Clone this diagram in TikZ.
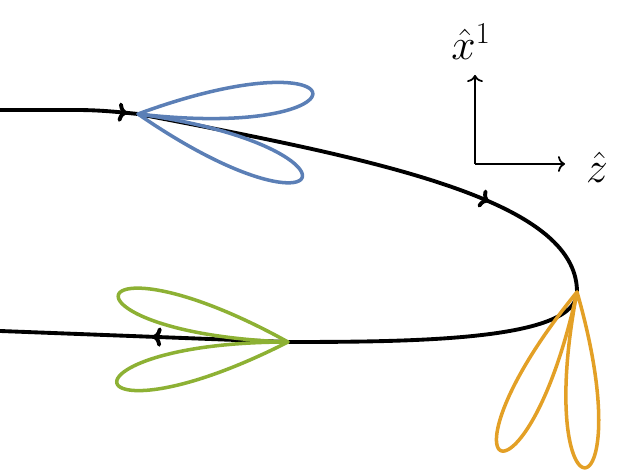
\documentclass[tikz,border=0pt]{standalone}
\usetikzlibrary{decorations.markings, arrows.meta}

\definecolor{lobeblue}{RGB}{91,127,182}
\definecolor{lobegreen}{RGB}{141,177,52}
\definecolor{lobeorange}{RGB}{227,160,38}

\tikzset{
  track/.style={line width=2.2pt, line cap=round},
  lobe/.style={line width=2pt, line join=round},
  axis/.style={line width=1pt, -{To[length=4pt,width=9pt]}},
  midarrow/.style={postaction={decorate}, decoration={markings,
    mark=at position #1 with {\arrow{To[length=5pt,width=11pt]}}}}
}

\begin{document}
\begin{tikzpicture}[x=0.02cm, y=0.02cm]
  \useasboundingbox (0,0) rectangle (625,472);

  \def \len {176}
  \def \wid {21} % half width of a lobe, roughly
  % define coordinates for emitters and track ends
  \coordinate (start) at (0,362);
  \coordinate (bend) at (75,362);
  \coordinate (B) at (138,358);
  \coordinate (R) at (577,180);
  \coordinate (G) at (288,130);
  \coordinate (stop) at (0,141);

  % draw the track
  \draw[track, midarrow=0.92] (start) -- (bend) .. controls (100,362) and (118,360) .. (B);
  \draw[track, midarrow=0.73] (B) .. controls (380,312) and (577,272) .. (R);
  \draw[track] (R) .. controls (577,132) and (420,130) .. (G);
  \draw[track, midarrow=0.47] (G) -- (stop);

  % draw the lobes
  \foreach \ang in {6.8,-21.2}
    \draw[lobe, lobeblue, shift={(B)}, rotate=\ang]
      plot[domain=0:360, samples=160, variable=\t]
      ({\len*(1-cos(\t))/2}, {\wid*sin(\t)*sin(\t/2)}) -- cycle;
  \foreach \ang in {164.5,193.5}
    \draw[lobe, lobegreen, shift={(G)}, rotate=\ang]
      plot[domain=0:360, samples=160, variable=\t]
      ({\len*(1-cos(\t))/2}, {\wid*sin(\t)*sin(\t/2)}) -- cycle;
  \foreach \ang in {244.3,272.6}
    \draw[lobe, lobeorange, shift={(R)}, rotate=\ang]
      plot[domain=0:360, samples=160, variable=\t]
      ({\len*(1-cos(\t))/2}, {\wid*sin(\t)*sin(\t/2)}) -- cycle;

  % draw the axes and labels
  \coordinate (O) at (475,308);
  \coordinate (Xtip) at (475,397);
  \coordinate (Ztip) at (565,308);
  \draw[axis] (O) -- (Xtip);
  \draw[axis] (O) -- (Ztip);
  \node (xlabel) at (471,430) {\fontsize{24}{28}\selectfont$\hat{x}^1$};
  \node (zlabel) at (597,305) {\fontsize{24}{28}\selectfont$\hat{z}$};
\end{tikzpicture}
\end{document}
